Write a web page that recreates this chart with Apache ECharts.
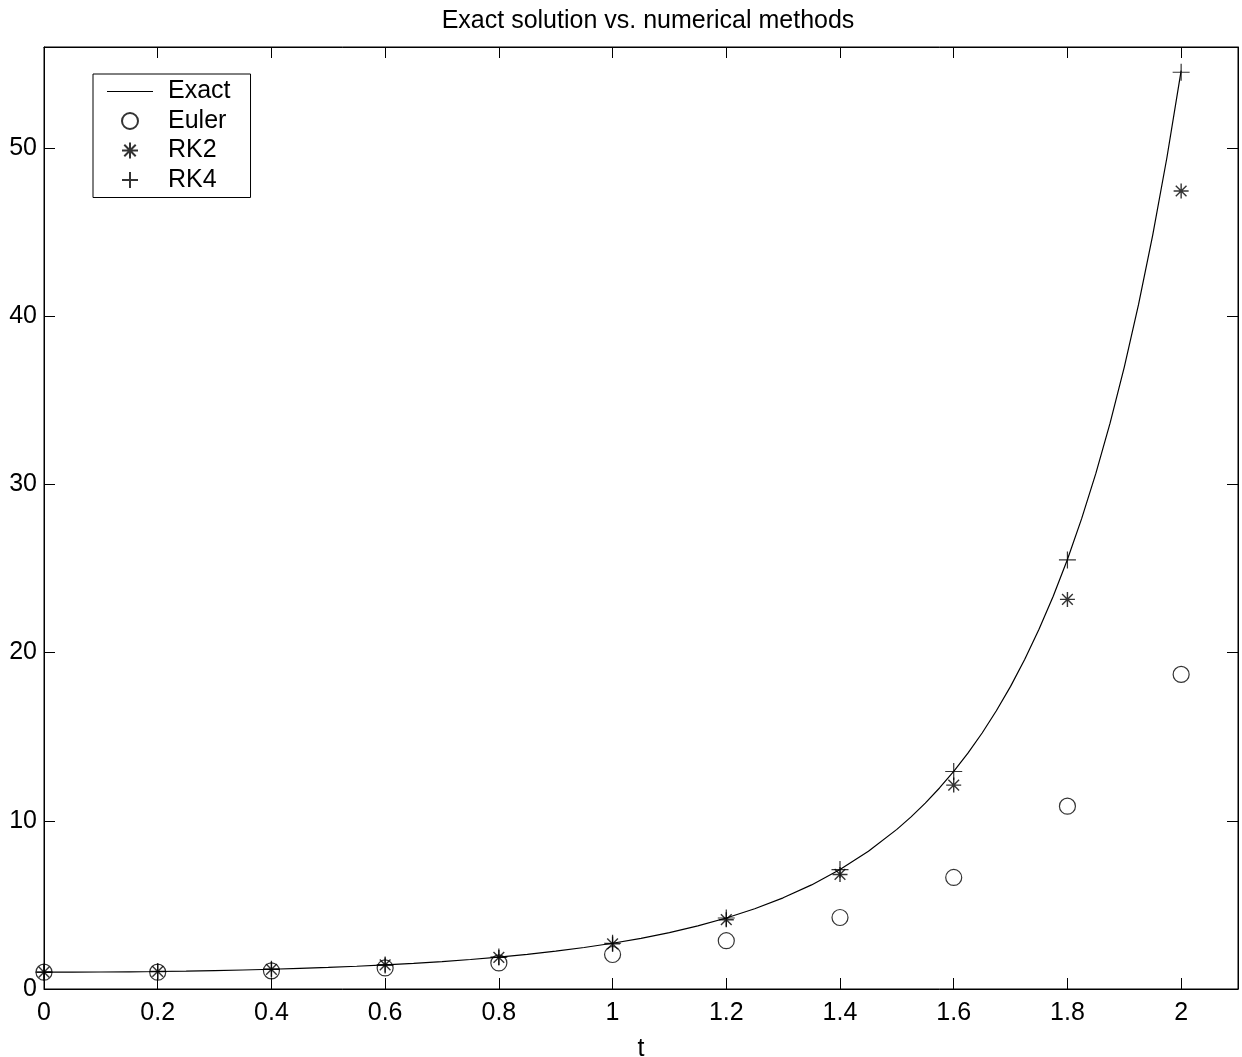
<!DOCTYPE html>
<html>
<head>
<meta charset="utf-8">
<script src="https://cdn.jsdelivr.net/npm/echarts@6/dist/echarts.min.js"></script>
<style>
  html, body { margin: 0; padding: 0; background: #fff; }
  #main { width: 1242px; height: 1057px; }
</style>
</head>
<body>
<div id="main"></div>
<script>
// step points of the methods
var tNodes = [0, 0.2, 0.4, 0.6, 0.8, 1.0, 1.2, 1.4, 1.6, 1.8, 2.0];
var eulerVals = [1, 1, 1.08, 1.25, 1.55, 2.05, 2.87, 4.25, 6.63, 10.87, 18.70];
var rk2Vals = [1, 1.04, 1.17, 1.43, 1.88, 2.68, 4.12, 6.81, 12.12, 23.16, 47.44];
var rk4Vals = [1, 1.04, 1.17, 1.43, 1.90, 2.72, 4.22, 7.10, 12.93, 25.51, 54.50];

// exact curve (denser where it gets steep)
var tExact = [0, 0.05, 0.1, 0.15, 0.2, 0.25, 0.3, 0.35, 0.4, 0.45, 0.5, 0.55, 0.6, 0.65, 0.7,
  0.75, 0.8, 0.85, 0.9, 0.95, 1.0, 1.05, 1.1, 1.15, 1.2, 1.25, 1.3, 1.35, 1.4, 1.45, 1.5,
  1.525, 1.55, 1.575, 1.6, 1.625, 1.65, 1.675, 1.7, 1.725, 1.75, 1.775, 1.8, 1.825, 1.85,
  1.875, 1.9, 1.925, 1.95, 1.975, 2.0];
var yExact = [1, 1.003, 1.010, 1.023, 1.041, 1.065, 1.094, 1.130, 1.174, 1.225, 1.284, 1.353,
  1.433, 1.526, 1.632, 1.755, 1.897, 2.060, 2.248, 2.466, 2.718, 3.012, 3.354, 3.753, 4.221,
  4.771, 5.420, 6.188, 7.099, 8.187, 9.488,
  10.23, 11.05, 11.95, 12.94, 14.02, 15.22, 16.54, 17.99, 19.60, 21.38, 23.35, 25.53, 27.96, 30.65,
  33.64, 36.97, 40.68, 44.82, 49.43, 54.60];

var xTicks = [0, 0.2, 0.4, 0.6, 0.8, 1, 1.2, 1.4, 1.6, 1.8, 2];
var yTicks = [0, 10, 20, 30, 40, 50];

function pairs (xs, ys) {
  return xs.map(function (x, i) { return [x, ys[i]] })
}

var font = 'Liberation Sans, Arial, sans-serif';
var starPath = 'path://M0,-7L0,7M-7,0L7,0M-5,-5L5,5M-5,5L5,-5';
var plusPath = 'path://M0,-8L0,8M-8,0L8,0';
var linePath = 'path://M0,0H46V1.2H0Z';

var chart = echarts.init(document.getElementById('main'));

var axisCommon = {
  axisLine: { show: true, onZero: false, lineStyle: { color: '#000', width: 1 } },
  axisTick: { show: true, inside: true, length: 11, lineStyle: { color: '#000', width: 1 } },
  splitLine: { show: false }
};

chart.setOption({
  animation: false,
  backgroundColor: '#fff',
  title: {
    text: 'Exact solution vs. numerical methods',
    left: 643,
    textAlign: 'center',
    top: 4,
    textStyle: { fontFamily: font, fontSize: 25, fontWeight: 'normal', color: '#000' }
  },
  grid: {
    left: 44, right: 4, top: 47, bottom: 68,
    outerBoundsMode: 'none',
    show: true, borderColor: '#000', borderWidth: 1, backgroundColor: 'transparent'
  },
  legend: {
    orient: 'vertical',
    left: 93,
    top: 74,
    padding: [5, 20, 5, 14],
    itemGap: 4.5,
    itemWidth: 46,
    itemHeight: 16,
    borderColor: '#000',
    borderWidth: 1,
    backgroundColor: '#fff',
    textStyle: { fontFamily: font, fontSize: 25, color: '#000', lineHeight: 25, padding: [0, 0, 0, 10] },
    data: [{ name: 'Exact', icon: linePath }, 'Euler', 'RK2', 'RK4']
  },
  xAxis: [
    Object.assign({
      type: 'value', min: 0, max: 2.1, interval: 0.2, position: 'bottom',
      name: 't', nameLocation: 'middle', nameGap: 48,
      nameTextStyle: { fontFamily: font, fontSize: 25, color: '#000' },
      axisLabel: {
        fontFamily: font, fontSize: 25, color: '#000', margin: 12,
        showMaxLabel: false,
        formatter: function (v) { return xTicks.indexOf(+v.toFixed(1)) >= 0 ? String(+v.toFixed(1)) : '' }
      }
    }, axisCommon),
    Object.assign({
      type: 'value', min: 0, max: 2.1, interval: 0.2, position: 'top',
      axisLabel: { show: false }
    }, axisCommon)
  ],
  yAxis: [
    Object.assign({
      type: 'value', min: 0, max: 56, interval: 10, position: 'left',
      axisLabel: {
        fontFamily: font, fontSize: 25, color: '#000', margin: 7,
        showMaxLabel: false,
        formatter: function (v) { return yTicks.indexOf(v) >= 0 ? String(v) : '' }
      }
    }, axisCommon),
    Object.assign({
      type: 'value', min: 0, max: 56, interval: 10, position: 'right',
      axisLabel: { show: false }
    }, axisCommon)
  ],
  series: [
    {
      name: 'Exact',
      type: 'line',
      data: pairs(tExact, yExact),
      symbol: 'none',
      smooth: false,
      lineStyle: { color: '#000', width: 1.2 },
      itemStyle: { color: '#000' }
    },
    {
      name: 'Euler',
      type: 'scatter',
      data: pairs(tNodes, eulerVals),
      symbol: 'circle',
      symbolSize: 16,
      itemStyle: { color: 'transparent', borderColor: '#000', borderWidth: 1.2 }
    },
    {
      name: 'RK2',
      type: 'scatter',
      data: pairs(tNodes, rk2Vals),
      symbol: starPath,
      symbolSize: 15,
      itemStyle: { color: 'transparent', borderColor: '#000', borderWidth: 1.4 }
    },
    {
      name: 'RK4',
      type: 'scatter',
      data: pairs(tNodes, rk4Vals),
      symbol: plusPath,
      symbolSize: 17,
      itemStyle: { color: 'transparent', borderColor: '#000', borderWidth: 1.2 }
    }
  ]
});
</script>
</body>
</html>
